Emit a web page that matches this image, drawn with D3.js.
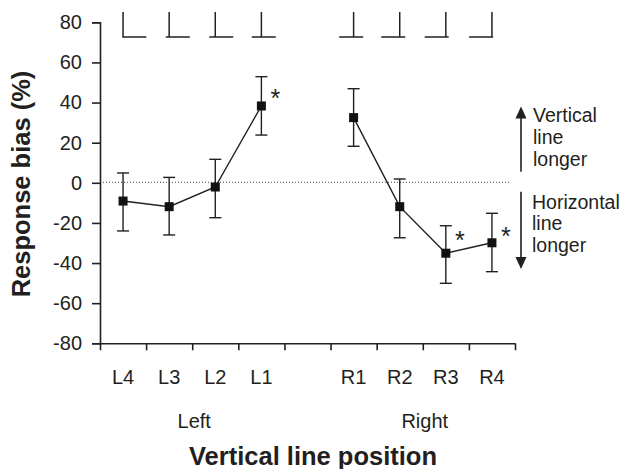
<!DOCTYPE html>
<html>
<head>
<meta charset="utf-8">
<script src="https://cdn.jsdelivr.net/npm/d3@7/dist/d3.min.js"></script>
<style>
  html, body { margin: 0; padding: 0; background: #fff; }
  svg { display: block; font-family: "Liberation Sans", Arial, sans-serif; }
</style>
</head>
<body>
<svg id="chart" width="622" height="469"></svg>
<script>
// ---- data ----
const slots = ["L4", "L3", "L2", "L1", "", "R1", "R2", "R3", "R4"];
const categories = ["L4", "L3", "L2", "L1", "R1", "R2", "R3", "R4"];
const meanBias = [-9.1, -11.9, -2.1, 38.3, 32.5, -11.9, -35.1, -29.9];
const upperBias = [4.9, 2.7, 11.7, 52.9, 46.9, 1.9, -21.4, -15.2];
const lowerBias = [-24.0, -26.0, -17.4, 23.8, 18.2, -27.4, -50.1, -44.3];
const significant = ["L1", "R3", "R4"];
const starLevel = [45.3, -25.5, -23.5];
const verticalFraction = [0.03, 0.14, 0.25, 0.4, 0.6, 0.77, 0.88, 0.95];
const yTicks = [80, 60, 40, 20, 0, -20, -40, -60, -80];
const groups = [{ name: "Left", members: ["L4", "L1"] }, { name: "Right", members: ["R1", "R4"] }];
const upLabel = ["Vertical", "line", "longer"];
const downLabel = ["Horizontal", "line", "longer"];
const arrowUp = [5.5, 38];
const arrowDown = [-4.5, -43];

// ---- layout ----
const ink = "#231f20";
const svg = d3.select("#chart");
const plotL = 100, plotR = 515, plotT = 22.3, plotB = 343.3;

const x = d3.scaleBand().domain(slots).range([plotL, plotR]).padding(0);
const xEdge = d3.scaleLinear().domain([0, slots.length]).range([plotL, plotR]);
const y = d3.scaleLinear().domain([-80, 80]).range([plotB, plotT]);
const cx = c => x(c) + x.bandwidth() / 2;

// zero reference line
svg.append("line")
  .attr("x1", plotL).attr("x2", plotR - 5)
  .attr("y1", y(0) - 0.5).attr("y2", y(0) - 0.5)
  .attr("stroke", "#444").attr("stroke-width", 1)
  .attr("stroke-dasharray", "1,2");

// y axis
const yAxis = svg.append("g")
  .attr("transform", `translate(${plotL},0)`)
  .call(d3.axisLeft(y).tickValues(yTicks).tickFormat(d => String(d)).tickSize(8).tickPadding(10));
yAxis.select(".domain").attr("stroke", ink).attr("stroke-width", 1.6);
yAxis.selectAll(".tick line").attr("stroke", ink).attr("stroke-width", 1.6);
yAxis.selectAll("text").attr("font-size", 20).attr("fill", ink).attr("font-family", "Liberation Sans, Arial, sans-serif");

// x axis: ticks at slot boundaries
const xAxisTicks = svg.append("g")
  .attr("transform", `translate(0,${plotB})`)
  .call(d3.axisBottom(xEdge).tickValues(d3.range(slots.length + 1)).tickFormat("").tickSize(7).tickSizeOuter(0));
xAxisTicks.select(".domain").attr("stroke", ink).attr("stroke-width", 1.6);
xAxisTicks.selectAll(".tick line").attr("stroke", ink).attr("stroke-width", 1.6);

// x axis labels at slot centers
const xAxisLabels = svg.append("g")
  .attr("transform", `translate(0,${plotB})`)
  .call(d3.axisBottom(x).tickSize(0).tickPadding(27));
xAxisLabels.select(".domain").remove();
xAxisLabels.selectAll("text").attr("font-size", 20).attr("fill", ink).attr("font-family", "Liberation Sans, Arial, sans-serif");

// group labels
svg.selectAll(".group").data(groups).join("text")
  .attr("x", g => (cx(g.members[0]) + cx(g.members[1])) / 2 + 2)
  .attr("y", 428)
  .attr("text-anchor", "middle")
  .attr("font-size", 20).attr("fill", ink)
  .text(g => g.name);

// axis titles
svg.append("text")
  .attr("x", 313).attr("y", 465)
  .attr("text-anchor", "middle")
  .attr("font-size", 25.5).attr("font-weight", "bold").attr("fill", ink)
  .text("Vertical line position");
svg.append("text")
  .attr("transform", "translate(30,184) rotate(-90)")
  .attr("text-anchor", "middle")
  .attr("font-size", 25.5).attr("font-weight", "bold").attr("fill", ink)
  .text("Response bias (%)");

// stimulus glyphs at top
const glyphW = 24, glyphTop = 12, glyphBase = 37;
const glyphs = svg.append("g").attr("stroke", ink).attr("stroke-width", 1.5).attr("fill", "none");
categories.forEach((c, i) => {
  const vx = cx(c);
  const x0 = vx - verticalFraction[i] * glyphW;
  glyphs.append("line").attr("x1", x0).attr("x2", x0 + glyphW).attr("y1", glyphBase).attr("y2", glyphBase);
  glyphs.append("line").attr("x1", vx).attr("x2", vx).attr("y1", glyphTop).attr("y2", glyphBase);
});

// error bars
const eb = svg.append("g").attr("stroke", ink).attr("stroke-width", 1.4);
categories.forEach((c, i) => {
  const px = cx(c);
  eb.append("line").attr("x1", px).attr("x2", px).attr("y1", y(upperBias[i])).attr("y2", y(lowerBias[i]));
  eb.append("line").attr("x1", px - 6).attr("x2", px + 6).attr("y1", y(upperBias[i])).attr("y2", y(upperBias[i]));
  eb.append("line").attr("x1", px - 6).attr("x2", px + 6).attr("y1", y(lowerBias[i])).attr("y2", y(lowerBias[i]));
});

// connecting lines (separately for left and right groups)
const line = d3.line().x(d => cx(d.c)).y(d => y(d.v));
const pts = categories.map((c, i) => ({ c, v: meanBias[i] }));
[pts.slice(0, 4), pts.slice(4)].forEach(seg => {
  svg.append("path").attr("d", line(seg)).attr("fill", "none").attr("stroke", ink).attr("stroke-width", 1.4);
});

// markers
svg.selectAll(".pt").data(pts).join("rect")
  .attr("x", d => cx(d.c) - 4.5).attr("y", d => y(d.v) - 4.5)
  .attr("width", 9).attr("height", 9).attr("fill", "#111");

// significance stars
svg.selectAll(".star").data(significant).join("text")
  .attr("x", d => cx(d) + 14).attr("y", (d, i) => y(starLevel[i]))
  .attr("dy", "0.6em")
  .attr("text-anchor", "middle")
  .attr("font-size", 25).attr("fill", ink)
  .text("*");

// direction arrows and labels
const ax = plotR + 6;
const arr = svg.append("g").attr("stroke", ink).attr("stroke-width", 1.6);
arr.append("line").attr("x1", ax).attr("x2", ax).attr("y1", y(arrowUp[0])).attr("y2", y(arrowUp[1]) + 8);
arr.append("line").attr("x1", ax).attr("x2", ax).attr("y1", y(arrowDown[0])).attr("y2", y(arrowDown[1]) - 8);
svg.append("path")
  .attr("d", `M${ax},${y(arrowUp[1])} L${ax - 5.5},${y(arrowUp[1]) + 12} L${ax + 5.5},${y(arrowUp[1]) + 12} Z`)
  .attr("fill", ink);
svg.append("path")
  .attr("d", `M${ax},${y(arrowDown[1])} L${ax - 5.5},${y(arrowDown[1]) - 12} L${ax + 5.5},${y(arrowDown[1]) - 12} Z`)
  .attr("fill", ink);

svg.selectAll(".uplab").data(upLabel).join("text")
  .attr("x", ax + 12).attr("y", (d, i) => y(arrowUp[1]) + 15 + i * 22)
  .attr("font-size", 19.5).attr("fill", ink).text(d => d);
svg.selectAll(".downlab").data(downLabel).join("text")
  .attr("x", ax + 11).attr("y", (d, i) => y(arrowDown[0]) + 17 + i * 21.5)
  .attr("font-size", 19.5).attr("fill", ink).text(d => d);
</script>
</body>
</html>
